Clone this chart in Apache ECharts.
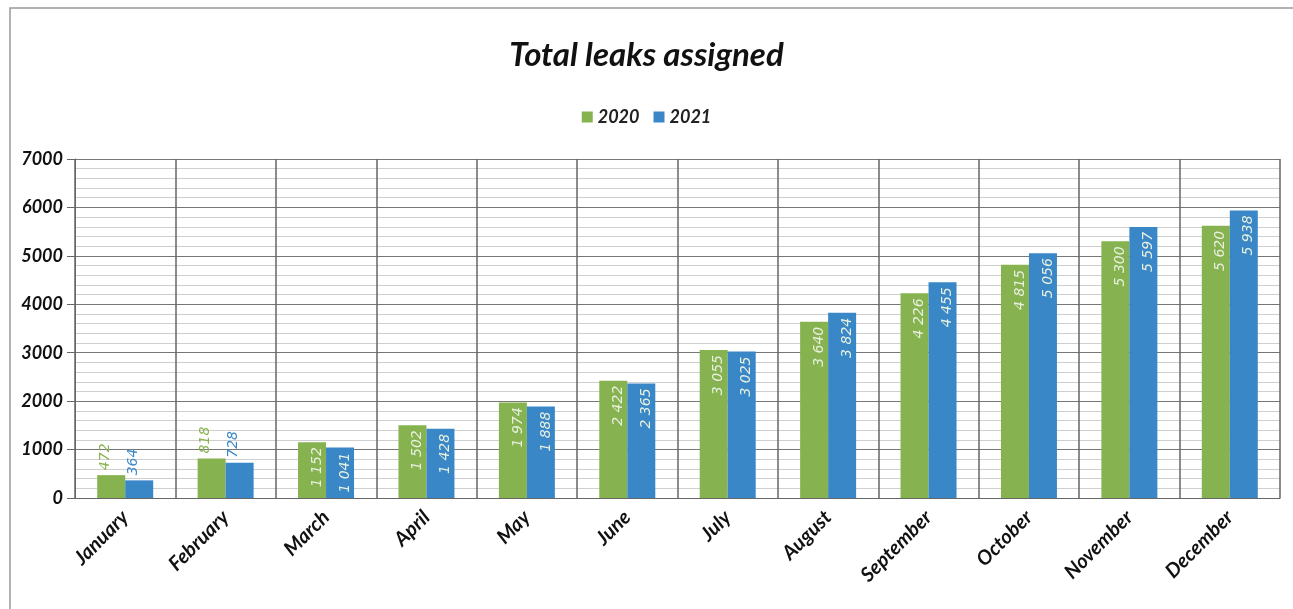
<!DOCTYPE html>
<html><head><meta charset="utf-8">
<script src="https://cdn.jsdelivr.net/npm/echarts@6/dist/echarts.min.js"></script>
<style>html,body{margin:0;padding:0;background:#fff}#c{width:1293px;height:609px}</style>
</head><body><div id="c"></div>
<script>
var months = ['January','February','March','April','May','June','July','August','September','October','November','December'];
var values2020 = [472, 818, 1152, 1502, 1974, 2422, 3055, 3640, 4226, 4815, 5300, 5620];
var values2021 = [364, 728, 1041, 1428, 1888, 2365, 3025, 3824, 4455, 5056, 5597, 5938];
var yTicks = [0, 1000, 2000, 3000, 4000, 5000, 6000, 7000];

var green = '#86b34f', blue = '#3a87c8';
function fmt(v){ return String(v).replace(/\B(?=(\d{3})+(?!\d))/g, ' '); }
function mk(vals, color){
  return vals.map(function(v){
    var inside = v >= 1000;
    return {value: v, label: inside ? {
      position: 'insideTop', rotate: 90, align: 'right', verticalAlign: 'middle', offset: [0, 5], color: '#e8f0e0'
    } : {
      position: 'top', rotate: 90, align: 'left', verticalAlign: 'middle', offset: [0, -6], color: color
    }};
  });
}
var chart = echarts.init(document.getElementById('c'));
chart.setOption({
  animation: false,
  backgroundColor: '#fff',
  title: {text: 'Total leaks assigned', left: 'center', top: 34,
    textStyle: {fontFamily: 'Lato', fontStyle: 'italic', fontWeight: 'bold', fontSize: 33, color: '#111'}},
  legend: {top: 103, left: 'center', itemWidth: 11, itemHeight: 11, itemGap: 14,
    textStyle: {fontFamily: 'Lato', fontStyle: 'italic', fontWeight: 'bold', fontSize: 18, color: '#222'},
    data: [{name: '2020', icon: 'rect'}, {name: '2021', icon: 'rect'}]},
  graphic: [{type: 'rect', shape: {x: 10, y: 8, width: 1290, height: 620},
    style: {fill: 'none', stroke: '#999', lineWidth: 1.5}}],
  grid: {left: 75, right: 13, top: 159, bottom: 111},
  xAxis: {type: 'category', data: months,
    axisLine: {lineStyle: {color: '#666'}}, axisTick: {show: false},
    splitLine: {show: true, lineStyle: {color: '#666', width: 1.5}},
    axisLabel: {rotate: 45, interval: 0, margin: 16, fontFamily: 'Lato', fontStyle: 'italic', fontWeight: 'bold', fontSize: 20, color: '#111'}},
  yAxis: {type: 'value', min: 0, max: 7000, interval: 1000,
    axisLine: {show: true, lineStyle: {color: '#666'}},
    axisTick: {show: true, length: 8, lineStyle: {color: '#666'}},
    splitLine: {lineStyle: {color: '#777', width: 1.2}},
    minorTick: {show: false, splitNumber: 5},
    minorSplitLine: {show: true, lineStyle: {color: '#cfcfcf'}},
    axisLabel: {margin: 12, fontFamily: 'Lato', fontStyle: 'italic', fontWeight: 'bold', fontSize: 18, color: '#111',
      formatter: function(v){ return yTicks.indexOf(v) >= 0 ? String(v) : ''; }}},
  series: [
    {name: '2020', type: 'bar', barWidth: 28, barGap: '0%', itemStyle: {color: green},
      label: {show: true, fontFamily: 'DejaVu Sans', fontStyle: 'italic', fontSize: 14, formatter: function(p){return fmt(p.value);}},
      data: mk(values2020, green)},
    {name: '2021', type: 'bar', barWidth: 28, barGap: '0%', itemStyle: {color: blue},
      label: {show: true, fontFamily: 'DejaVu Sans', fontStyle: 'italic', fontSize: 14, formatter: function(p){return fmt(p.value);}},
      data: mk(values2021, blue)}
  ]
});
</script></body></html>
